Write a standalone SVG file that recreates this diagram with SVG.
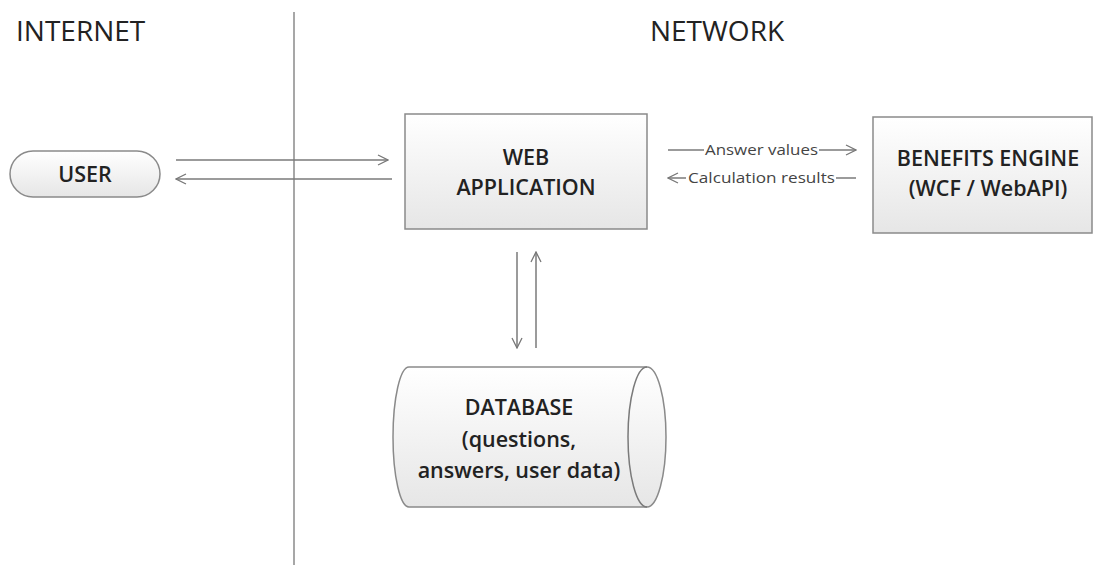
<svg xmlns="http://www.w3.org/2000/svg" width="1094" height="565" viewBox="0 0 1094 565">
  <defs>
    <linearGradient id="boxFill" x1="0" y1="0" x2="0" y2="1">
      <stop offset="0" stop-color="#ffffff"/>
      <stop offset="1" stop-color="#e6e6e6"/>
    </linearGradient>
    <marker id="open" viewBox="0 0 12 12" refX="11" refY="6" markerWidth="12" markerHeight="12" markerUnits="userSpaceOnUse" orient="auto">
      <path d="M1,1 L11,6 L1,11" fill="none" stroke="#777" stroke-width="1.3"/>
    </marker>
    <style>
      .zone { font-family: "Open Sans", "Liberation Sans", sans-serif; font-size: 28px; fill: #222; }
      .shape { fill: url(#boxFill); stroke: #8a8a8a; stroke-width: 1.5; }
      .label { font-family: "Open Sans", "Liberation Sans", sans-serif; font-size: 21.5px; font-weight: 600; fill: #222; text-anchor: middle; }
      .small { font-family: "Open Sans", "Liberation Sans", sans-serif; font-size: 15px; fill: #444; }
      .flow { fill: none; stroke: #7a7a7a; stroke-width: 1.5; marker-end: url(#open); }
      .line { fill: none; stroke: #7a7a7a; stroke-width: 1.5; }
    </style>
  </defs>

  <!-- zone titles and boundary -->
  <text class="zone" x="16" y="41">INTERNET</text>
  <text class="zone" x="717" y="41" text-anchor="middle">NETWORK</text>
  <line x1="294" y1="12" x2="294" y2="565" stroke="#8a8a8a" stroke-width="1.5"/>

  <g id="connectors">
    <line class="flow" x1="176" y1="160" x2="388" y2="160"/>
    <line class="flow" x1="392" y1="179" x2="176" y2="179"/>
    <line class="flow" x1="517" y1="252" x2="517" y2="348"/>
    <line class="flow" x1="536" y1="348" x2="536" y2="252"/>
    <!-- Answer values -->
    <line class="line" x1="668" y1="150" x2="704" y2="150"/>
    <text class="small" x="705" y="155" textLength="113" lengthAdjust="spacingAndGlyphs">Answer values</text>
    <line class="flow" x1="819" y1="150" x2="856" y2="150"/>
    <!-- Calculation results -->
    <line class="flow" x1="686" y1="178" x2="668" y2="178"/>
    <text class="small" x="688" y="183" textLength="147" lengthAdjust="spacingAndGlyphs">Calculation results</text>
    <line class="line" x1="836" y1="178" x2="856" y2="178"/>
  </g>

  <g id="user">
    <rect class="shape" x="10" y="151" width="150" height="46" rx="23"/>
    <text class="label" x="85" y="182">USER</text>
  </g>

  <g id="web-application">
    <rect class="shape" x="405" y="114" width="242" height="115"/>
    <text class="label" x="526" y="165">WEB</text>
    <text class="label" x="526" y="195">APPLICATION</text>
  </g>

  <g id="benefits-engine">
    <rect class="shape" x="873" y="117" width="219" height="116"/>
    <text class="label" x="988" y="166">BENEFITS ENGINE</text>
    <text class="label" x="988" y="196">(WCF / WebAPI)</text>
  </g>

  <g id="database">
    <path class="shape" d="M409,367 L647,367 A19,70 0 0 1 647,507 L409,507 A16,70 0 0 1 409,367 Z"/>
    <path class="line" d="M647,367 A19,70 0 0 0 647,507" stroke="#8a8a8a"/>
    <text class="label" x="519" y="415">DATABASE</text>
    <text class="label" x="519" y="447">(questions,</text>
    <text class="label" x="519" y="478">answers, user data)</text>
  </g>
</svg>
